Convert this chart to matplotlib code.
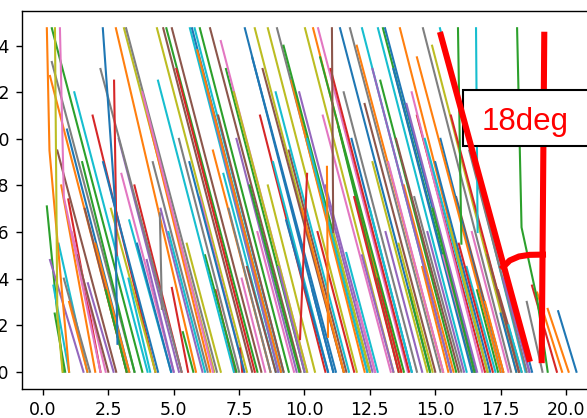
import matplotlib
matplotlib.use('Agg')
import matplotlib.pyplot as plt
from matplotlib.patches import Rectangle

# top of the traces
T = 1.475

# straight traces: start point, end point and colour
x_start = [2.79, 3.10, 3.18, 4.36, 4.60, 4.72, 4.93, 5.62, 5.70, 5.80,
           6.00, 6.39, 7.72, 8.10, 8.60, 8.95, 10.02, 10.33, 10.52, 11.36,
           11.74, 12.20, 12.81, 13.00, 13.08, 13.65, 14.53, 15.18, 0.34, 0.34,
           0.15, 0.27, 0.40, 0.45, 0.27, 0.92, 0.97, 1.72, 1.10, 0.60,
           0.70, 1.30, 1.50, 1.90, 2.30, 2.60, 3.00, 3.30, 3.50, 3.97,
           3.27, 4.93, 5.35, 4.00, 4.50, 5.20, 5.50, 6.00, 6.30, 6.90,
           7.60, 7.53, 6.60, 7.00, 7.40, 7.90, 8.30, 8.80, 9.30, 9.50,
           10.50, 10.80, 11.60, 11.30, 11.90, 12.00, 12.30, 12.60, 13.10, 13.40,
           13.80, 14.00, 14.30, 14.70, 15.00, 14.88, 15.30, 15.80, 16.20, 16.30,
           16.90, 17.20, 17.50, 17.40, 17.60, 18.50, 18.70, 18.90, 19.30, 19.70,
           5.90, 6.80, 7.30, 8.00, 8.40, 9.20, 9.80, 10.10, 11.00, 11.50,
           12.00, 12.90, 13.50, 14.10, 14.60, 15.60,
           1.20, 1.60, 2.00, 2.40, 2.90, 3.60, 3.80, 4.20, 4.80, 5.10,
           5.60, 6.20, 6.50, 7.10, 7.80, 8.20, 8.60, 9.00, 9.40, 9.90,
           10.30, 10.70, 11.10, 11.80, 12.20, 12.50, 12.80, 13.20, 13.60, 13.90,
           14.20, 14.50, 14.90, 15.20, 15.50, 15.90, 16.40, 16.60, 17.00, 17.80,
           18.00, 0.55, 0.80, 1.00, 2.20, 4.40, 6.70, 8.90, 10.60, 12.60,
           14.30,
           2.72, 4.47, 11.05, 10.10, 10.86, 15.87, 16.56]
y_start = [T, T, T, T, T, T, T, T, T, T,
           T, T, T, T, T, T, T, T, T, T,
           T, T, T, T, T, T, T, T, T, 1.33,
           0.71, 0.48, 0.37, 0.25, 1.27, 1.04, 0.74, 0.38, 0.60, 0.55,
           0.80, 0.50, 0.90, 1.10, 0.90, 0.70, 0.85, 0.65, 0.80, 0.48,
           0.40, 0.36, 0.17, 1.10, 0.70, 1.00, 0.55, 0.75, 1.20, 0.85,
           0.40, 0.10, 0.35, 1.30, 1.00, 0.80, 1.10, 0.90, 0.65, 1.25,
           0.60, 0.80, 0.51, 1.05, 0.75, 0.30, 1.15, 0.90, 0.60, 1.30,
           0.80, 0.35, 1.10, 0.60, 0.90, 1.40, 0.50, 0.75, 0.45, 0.95,
           0.30, 0.60, 0.25, 0.35, 0.40, 0.30, 0.37, 0.34, 0.27, 0.26,
           1.38, 1.42, 1.20, 1.35, 1.30, 1.40, 1.20, 1.00, 1.30, 1.20,
           1.40, 1.25, 1.00, 1.20, 1.00, 1.10,
           1.20, 0.70, 0.55, 0.35, 1.00, 0.55, 1.20, 0.90, 0.60, 1.30,
           0.90, 0.50, 0.95, 0.70, 0.45, 0.60, 0.80, 0.45, 0.95, 0.70,
           0.35, 1.10, 0.60, 1.00, 0.50, 0.70, 0.40, 0.90, 0.55, 1.15,
           0.75, 0.45, 0.70, 1.00, 0.65, 0.55, 0.60, 0.35, 0.50, 0.20,
           0.30, 0.95, 0.40, 0.30, 1.30, 1.25, 1.10, 1.20, 1.35, 1.30,
           1.35,
           1.25, 0.68, T, 0.85, 0.88, T, T]
x_end = [5.85, 6.55, 6.65, 7.80, 8.00, 8.20, 8.35, 9.00, 9.10, 9.20,
         9.40, 9.85, 11.10, 11.50, 12.00, 12.40, 13.40, 13.70, 13.95, 14.80,
         15.20, 15.60, 16.20, 16.45, 16.55, 17.00, 17.90, 18.45, 3.80, 3.50,
         0.77, 1.55, 1.00, 0.85, 3.20, 3.30, 2.20, 2.70, 2.40, 1.70,
         2.00, 2.50, 3.50, 4.30, 4.40, 4.30, 5.00, 4.90, 5.30, 5.00,
         4.10, 5.55, 5.75, 6.40, 6.10, 7.50, 6.80, 7.70, 9.00, 8.90,
         8.50, 7.62, 7.35, 10.00, 9.70, 9.80, 10.80, 10.90, 10.90, 12.30,
         11.90, 12.70, 12.80, 13.60, 13.60, 12.70, 15.00, 14.70, 14.50, 16.40,
         15.70, 14.80, 16.90, 16.10, 17.10, 18.10, 16.50, 17.60, 17.30, 18.50,
         17.60, 18.60, 18.10, 18.30, 18.60, 19.10, 19.65, 19.85, 20.10, 20.40,
         9.10, 10.10, 10.10, 11.20, 11.50, 12.50, 12.60, 12.40, 14.00, 14.30,
         15.30, 15.80, 15.90, 16.80, 17.00, 18.20,
         4.00, 3.20, 3.30, 3.20, 5.20, 4.90, 6.50, 6.30, 6.20, 8.10,
         7.70, 7.40, 8.70, 8.70, 8.90, 9.60, 10.40, 10.00, 11.60, 11.50,
         11.10, 13.30, 12.50, 14.10, 13.40, 14.10, 13.70, 15.30, 14.90, 16.60,
         16.00, 15.50, 16.50, 17.50, 17.00, 17.20, 17.80, 17.40, 18.20, 18.30,
         18.70, 2.80, 1.80, 1.70, 5.30, 7.30, 9.20, 11.70, 13.80, 15.60,
         17.50,
         2.82, 4.55, 11.10, 9.83, 10.90, 16.00, 16.62]
y_end = [0.0] * 167 + [0.50, 0.27, 0.60, 0.14, 0.15, 0.55, 0.60]
colors = ['C1', 'C8', 'C7', 'C8', 'C5', 'C2', 'C5', 'C9', 'C0', 'C9',
          'C2', 'C5', 'C0', 'C8', 'C8', 'C7', 'C8', 'C1', 'C6', 'C0',
          'C7', 'C9', 'C9', 'C2', 'C0', 'C1', 'C7', 'C9', 'C2', 'C7',
          'C2', 'C4', 'C9', 'C2', 'C1', 'C0', 'C3', 'C4', 'C6', 'C9',
          'C1', 'C5', 'C2', 'C3', 'C0', 'C8', 'C6', 'C9', 'C3', 'C4',
          'C9', 'C3', 'C2', 'C1', 'C4', 'C7', 'C8', 'C6', 'C4', 'C9',
          'C6', 'C3', 'C3', 'C2', 'C4', 'C2', 'C3', 'C9', 'C0', 'C1',
          'C3', 'C4', 'C9', 'C2', 'C3', 'C6', 'C5', 'C8', 'C4', 'C0',
          'C1', 'C2', 'C3', 'C4', 'C0', 'C8', 'C6', 'C5', 'C9', 'C7',
          'C1', 'C4', 'C0', 'C5', 'C4', 'C7', 'C3', 'C1', 'C1', 'C0',
          'C1', 'C6', 'C8', 'C0', 'C5', 'C2', 'C4', 'C9', 'C3', 'C7',
          'C1', 'C2', 'C5', 'C6', 'C9', 'C3',
          'C9', 'C5', 'C1', 'C2', 'C4', 'C0', 'C6', 'C7', 'C9', 'C3',
          'C0', 'C2', 'C1', 'C7', 'C5', 'C6', 'C8', 'C4', 'C5', 'C1',
          'C0', 'C6', 'C8', 'C0', 'C4', 'C9', 'C3', 'C6', 'C8', 'C4',
          'C7', 'C1', 'C2', 'C0', 'C8', 'C3', 'C6', 'C2', 'C5', 'C9',
          'C0', 'C5', 'C7', 'C1', 'C7', 'C9', 'C5', 'C9', 'C2', 'C4',
          'C1',
          'C3', 'C7', 'C5', 'C3', 'C1', 'C2', 'C9']

# traces with a bend
bent_x = [[0.15, 0.25, 1.00], [0.46, 0.55, 0.75], [0.65, 0.80, 2.20],
          [2.29, 2.75, 2.85], [18.13, 18.30, 18.90, 19.30]]
bent_y = [[T, 0.95, 0.0], [T, 0.25, 0.0], [T, 0.75, 0.0],
          [T, 0.74, 0.12], [T, 0.62, 0.31, 0.0]]
bent_colors = ['C1', 'C8', 'C6', 'C0', 'C2']

# red angle annotation
red_left_x = [15.18, 18.62]
red_left_y = [1.459, 0.043]
red_right_x = [19.17, 19.07]
red_right_y = [1.46, 0.037]
arc_x = [17.60, 17.85, 18.20, 18.60, 19.12]
arc_y = [0.450, 0.478, 0.495, 0.502, 0.503]

fig = plt.figure(figsize=(587 / 125, 418 / 125), dpi=125)
ax = fig.add_axes([22 / 587, 29 / 418, 578 / 587, 378 / 418])

for i in range(len(x_start)):
    ax.plot([x_start[i], x_end[i]], [y_start[i], y_end[i]], color=colors[i], lw=1.2)
for xs, ys, c in zip(bent_x, bent_y, bent_colors):
    ax.plot(xs, ys, color=c, lw=1.2)

ax.set_xlim(-0.8, 21.3)
ax.set_ylim(-0.074, 1.549)
ax.set_xticks([0, 2.5, 5, 7.5, 10, 12.5, 15, 17.5, 20])
ax.set_yticks([0, 0.2, 0.4, 0.6, 0.8, 1.0, 1.2, 1.4])

# annotation: vertical line, box, text, then slanted line on top
ax.plot(red_right_x, red_right_y, color='red', lw=3.5, zorder=5, solid_capstyle='butt')
ax.plot(arc_x, arc_y, color='red', lw=3.5, zorder=5)
box = Rectangle((463 / 587, 272 / 418), 140 / 587, 56 / 418, transform=fig.transFigure,
                facecolor='white', edgecolor='black', lw=1.2, zorder=6, clip_on=False)
ax.add_patch(box)
ax.text(482 / 587, 288 / 418, '18deg', transform=fig.transFigure, color='red',
        fontsize=18, family=['Liberation Sans', 'DejaVu Sans'], va='baseline',
        zorder=7, clip_on=False)
ax.plot(red_left_x, red_left_y, color='red', lw=3.5, zorder=8, solid_capstyle='butt')

fig.savefig('out.png', dpi=125)
